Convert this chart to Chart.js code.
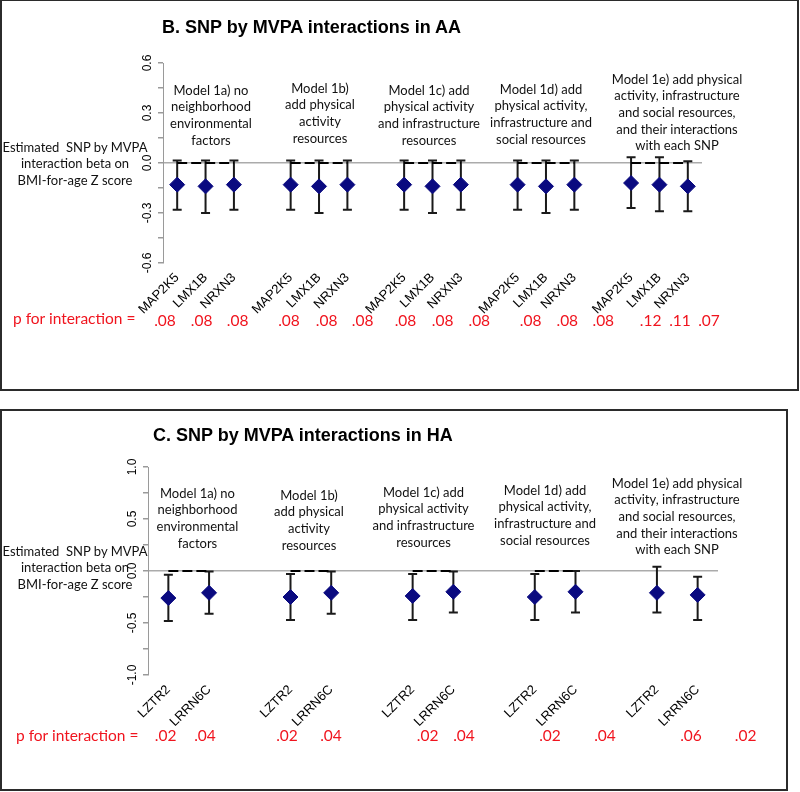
<!DOCTYPE html>
<html lang="en">
<head>
<meta charset="UTF-8">
<title>SNP by MVPA interactions</title>
<script src="https://cdn.jsdelivr.net/npm/chart.js"></script>
<style>
    body { margin: 0; width: 800px; height: 792px; position: relative; overflow: hidden; background: #fff; font-family: 'Liberation Sans', Arial, sans-serif; }
    .frame { position: absolute; border: 2px solid #2b2b2b; box-sizing: border-box; }
    canvas { position: absolute; left: 0; }
    .title { position: absolute; font-weight: bold; font-size: 18px; line-height: 20px; white-space: nowrap; color: #000; }
    .note { position: absolute; font-family: Lato, sans-serif; font-size: 13px; line-height: 16.7px; text-align: center; white-space: pre; transform: translateX(-50%); color: #111; }
    .plabel, .pval { position: absolute; font-family: Lato, sans-serif; font-size: 15.5px; line-height: 18px; color: #f0141e; white-space: nowrap; }
    .pval { transform: translateX(-50%); }
</style>
</head>
<body>

<div class="frame" style="left:0; top:-1px; width:799px; height:392px;"></div>
<div class="frame" style="left:0; top:409px; width:788px; height:382px;"></div>

<canvas id="chartB" width="800" height="395" style="top:0"></canvas>
<canvas id="chartC" width="800" height="390" style="top:400px"></canvas>

<div id="texts"></div>

<script>
// --- Daten Panel B (AA) ---
const modelsB = 5;
const snpB = ['MAP2K5', 'LMX1B', 'NRXN3'];
const estB  = [-0.13, -0.14, -0.13,  -0.13, -0.14, -0.13,  -0.13, -0.14, -0.13,  -0.13, -0.14, -0.13,  -0.12, -0.13, -0.14];
const lowB  = [-0.28, -0.30, -0.28,  -0.28, -0.30, -0.28,  -0.28, -0.30, -0.28,  -0.28, -0.30, -0.28,  -0.27, -0.29, -0.29];
const highB = [0.015, 0.015, 0.015,  0.015, 0.015, 0.015,  0.015, 0.015, 0.015,  0.015, 0.015, 0.015,  0.035, 0.035, 0.01];
const dashB = [true, true, true, true, true];
const pB = ['.08', '.08', '.08', '.08', '.08', '.08', '.08', '.08', '.08', '.08', '.08', '.08', '.12', '.11', '.07'];

// --- Daten Panel C (HA) ---
const modelsC = 5;
const snpC = ['LZTR2', 'LRRN6C'];
const estC  = [-0.26, -0.21,  -0.25, -0.21,  -0.24, -0.20,  -0.25, -0.20,  -0.21, -0.23];
const lowC  = [-0.48, -0.41,  -0.47, -0.41,  -0.47, -0.40,  -0.47, -0.40,  -0.40, -0.47];
const highC = [-0.035, -0.005, -0.03, -0.005, -0.03, -0.005, -0.03, 0.0,  0.04, -0.055];
const dashC = [true, true, true, true, false];
const pC = ['.02', '.04', '.02', '.04', '.02', '.04', '.02', '.04', '.06', '.02'];

const modelNotes = [
    'Model 1a) no\nneighborhood\nenvironmental\nfactors',
    'Model 1b)\nadd physical\nactivity\nresources',
    'Model 1c) add\nphysical activity\nand infrastructure\nresources',
    'Model 1d) add\nphysical activity,\ninfrastructure and\nsocial resources',
    'Model 1e) add physical\nactivity, infrastructure\nand social resources,\nand their interactions\nwith each SNP'
];
const yCaption = 'Estimated\u00a0 SNP by MVPA\ninteraction beta on\nBMI-for-age Z score';

// --- Textpositionen (Layout) ---
const notePosB = [[211, 90], [320, 88], [429, 90], [541, 89], [677, 79]];
const notePosC = [[197.5, 493], [309, 495], [423.5, 492], [545, 490], [677, 483]];
const pXB = [165, 201.7, 237.7, 289, 326.7, 362.7, 405.5, 442.7, 479.3, 530.7, 567.3, 603.3, 650.7, 680, 709];
const pXC = [165.7, 205, 287, 331, 427.7, 464, 550, 605, 691, 745.7];

// Slots: SNPs je Modell plus eine Leerstelle dazwischen
function buildSlots(models, snps, est, low, high, dash) {
    const labels = [], e = [], lo = [], hi = [], d = [];
    for (let m = 0; m < models; m++) {
        if (m > 0) { labels.push(''); e.push(null); lo.push(null); hi.push(null); d.push(null); }
        snps.forEach((s, k) => {
            const i = m * snps.length + k;
            labels.push(s); e.push(est[i]); lo.push(low[i]); hi.push(high[i]);
            d.push(dash[m] ? 0 : null);
        });
    }
    return { labels, e, lo, hi, d };
}

const errorBars = {
    id: 'errorBars',
    beforeDatasetsDraw(chart, args, opts) {
        const { ctx, scales: { x, y } } = chart;
        ctx.save();
        ctx.strokeStyle = '#1a1a1a';
        ctx.lineWidth = 2;
        opts.low.forEach((lo, i) => {
            if (lo == null) return;
            const px = x.getPixelForValue(i);
            const yl = y.getPixelForValue(lo), yh = y.getPixelForValue(opts.high[i]);
            ctx.beginPath();
            ctx.moveTo(px, yl); ctx.lineTo(px, yh);
            ctx.moveTo(px - 4.5, yl); ctx.lineTo(px + 4.5, yl);
            ctx.moveTo(px - 4.5, yh); ctx.lineTo(px + 4.5, yh);
            ctx.stroke();
        });
        ctx.restore();
    }
};

function makeChart(id, slots, range, step, padding) {
    return new Chart(document.getElementById(id), {
        type: 'line',
        data: {
            labels: slots.labels,
            datasets: [{
                data: slots.e,
                showLine: false,
                pointStyle: 'rectRot',
                pointRadius: 7.5,
                pointBackgroundColor: '#0a0a80',
                pointBorderColor: '#0a0a80',
                pointBorderWidth: 1
            }, {
                data: slots.d,
                spanGaps: false,
                pointRadius: 0,
                borderColor: '#000',
                borderWidth: 2,
                borderDash: [10, 4]
            }]
        },
        options: {
            responsive: false,
            animation: false,
            events: [],
            layout: { padding },
            plugins: {
                legend: { display: false },
                tooltip: { enabled: false },
                errorBars: { low: slots.lo, high: slots.hi }
            },
            scales: {
                x: {
                    offset: true,
                    afterFit: s => { s.height = 60; },
                    grid: { display: false, drawTicks: false },
                    border: { display: false },
                    ticks: {
                        autoSkip: false, minRotation: 45, maxRotation: 45, padding: 7,
                        color: '#000', font: { family: 'Liberation Sans', size: 13 }
                    }
                },
                y: {
                    min: -range, max: range,
                    afterFit: s => { s.width = 40; },
                    border: { display: true, color: '#9a9a9a', width: 1 },
                    grid: {
                        color: c => Math.abs(c.tick.value) < 1e-9 ? '#ababab' : 'rgba(0,0,0,0)',
                        lineWidth: 1.5,
                        tickColor: '#9a9a9a',
                        tickLength: 5
                    },
                    ticks: {
                        stepSize: step / 2,
                        minRotation: 90, maxRotation: 90,
                        crossAlign: 'center',
                        padding: 0,
                        color: '#000',
                        font: { family: 'Liberation Sans', size: 12 },
                        callback: v => {
                            if (Math.round(v / (step / 2)) % 2 !== 0) return '';
                            return Math.abs(v) < 1e-9 ? '0.0' : v.toFixed(1);
                        }
                    }
                }
            }
        },
        plugins: [errorBars]
    });
}

const slotsB = buildSlots(modelsB, snpB, estB, lowB, highB, dashB);
const slotsC = buildSlots(modelsC, snpC, estC, lowC, highC, dashC);
makeChart('chartB', slotsB, 0.6, 0.3, { left: 123, right: 98, top: 63, bottom: 72 });
makeChart('chartC', slotsC, 1.0, 0.5, { left: 108, right: 82, top: 67, bottom: 55 });

// --- Texte ---
const box = document.getElementById('texts');
function addDiv(cls, text, style) {
    const el = document.createElement('div');
    el.className = cls;
    el.textContent = text;
    Object.assign(el.style, style);
    box.appendChild(el);
}
addDiv('title', 'B. SNP by MVPA interactions in AA', { left: '162px', top: '17px' });
addDiv('title', 'C. SNP by MVPA interactions in HA', { left: '153px', top: '425px' });
modelNotes.forEach((t, i) => {
    addDiv('note', t, { left: notePosB[i][0] + 'px', top: (notePosB[i][1] - 8.35) + 'px' });
    addDiv('note', t, { left: notePosC[i][0] + 'px', top: (notePosC[i][1] - 8.35) + 'px' });
});
addDiv('note', yCaption, { left: '75px', top: (147 - 8.35) + 'px' });
addDiv('note', yCaption, { left: '75px', top: (551 - 8.35) + 'px' });
addDiv('plabel', 'p for interaction =', { left: '13px', top: (318 - 9) + 'px' });
addDiv('plabel', 'p for interaction =', { left: '16px', top: (735 - 9) + 'px' });
pB.forEach((p, i) => addDiv('pval', p, { left: pXB[i] + 'px', top: (320 - 9) + 'px' }));
pC.forEach((p, i) => addDiv('pval', p, { left: pXC[i] + 'px', top: (735 - 9) + 'px' }));
</script>
</body>
</html>
